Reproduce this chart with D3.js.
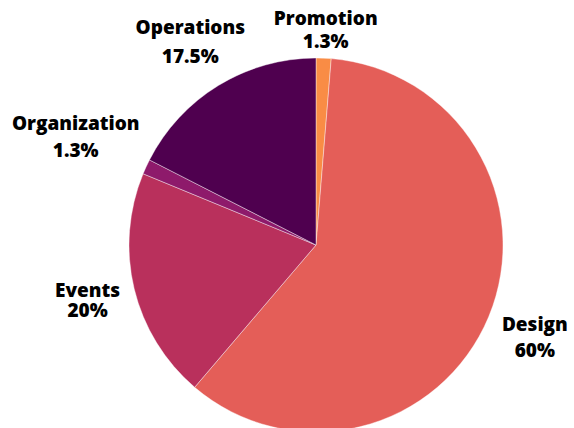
<!DOCTYPE html>
<html>
<head>
<meta charset="utf-8">
<script src="https://cdn.jsdelivr.net/npm/d3@7"></script>
<style>
  html, body { margin: 0; padding: 0; background: #fff; }
  svg { display: block; }
  .lbl { font-family: "Open Sans", sans-serif; font-weight: 800; font-size: 19px; fill: #000; }
</style>
</head>
<body>
<svg id="chart" width="574" height="428"></svg>
<script>
"use strict";

// data
const categories = [ "Promotion", "Design", "Events", "Organization", "Operations" ];
const shares     = [ 1.3, 60, 20, 1.3, 17.5 ];
const pctLabels  = [ "1.3%", "60%", "20%", "1.3%", "17.5%" ];
const colors     = [ "#f98c45", "#e45e58", "#b9305c", "#8e1a6b", "#4f004f" ];

// layout
const width = 574, height = 428,
      cx = 316, cy = 245,
      radius = 187,
      labelRadius = 237;

// label tweaks: [dx, dy, line gap]
const nudge = {
  Promotion:    [ 0, 28, 23 ],
  Design:       [ 0,  8, 26 ],
  Events:       [ 2,  6, 20 ],
  Organization: [ -25, -2, 27 ],
  Operations:   [ -2,  6, 29 ]
};

const rows = categories.map( (c, i) => ({ name: c, value: shares[i], pct: pctLabels[i], color: colors[i] }) );

const svg = d3.select( "#chart" )
  .attr( "viewBox", "0 0 " + width + " " + height );

const g = svg.append( "g" )
  .attr( "transform", "translate(" + cx + "," + cy + ")" );

const pie = d3.pie()
  .sort( null )
  .value( (d) => d.value );

const arc = d3.arc()
  .innerRadius( 0 )
  .outerRadius( radius );

const labelArc = d3.arc()
  .innerRadius( labelRadius )
  .outerRadius( labelRadius );

const arcs = pie( rows );

// slices
g.selectAll( ".slice" )
    .data( arcs )
  .enter().append( "path" )
    .attr( "class", "slice" )
    .attr( "d", arc )
    .attr( "fill", (d) => d.data.color )
    .attr( "stroke", "#ffffff" )
    .attr( "stroke-width", 0.4 );

// labels
const labels = g.selectAll( ".lbl" )
    .data( arcs )
  .enter().append( "text" )
    .attr( "class", "lbl" )
    .attr( "text-anchor", "middle" )
    .attr( "transform", (d) => {
      const c = labelArc.centroid( d ),
            n = nudge[ d.data.name ];
      return "translate(" + (c[0] + n[0]) + "," + (c[1] + n[1]) + ")";
    });

labels.append( "tspan" )
    .attr( "x", 0 )
    .attr( "y", (d) => -nudge[ d.data.name ][2] / 2 )
    .text( (d) => d.data.name );

labels.append( "tspan" )
    .attr( "x", 0 )
    .attr( "y", (d) => nudge[ d.data.name ][2] / 2 )
    .text( (d) => d.data.pct );
</script>
</body>
</html>
